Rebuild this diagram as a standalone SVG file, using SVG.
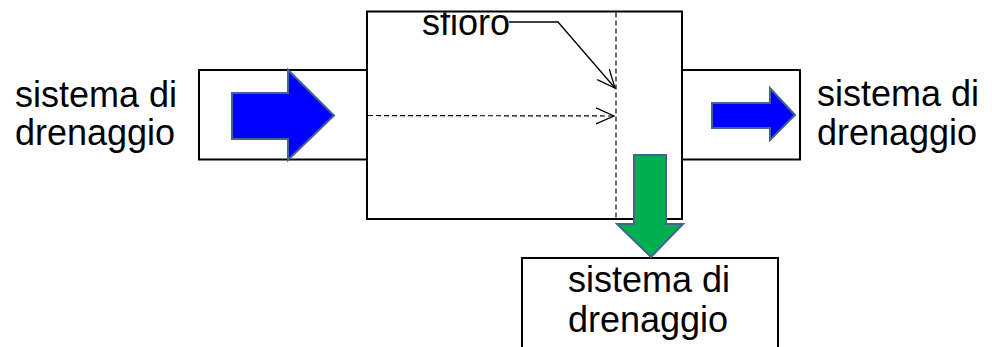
<svg xmlns="http://www.w3.org/2000/svg" width="992" height="347" viewBox="0 0 992 347">
<style>
.box{fill:#ffffff;stroke:#000000;stroke-width:2}
.lbl{font-family:"Liberation Sans",Arial,sans-serif;font-size:36px;fill:#000000}
.blue{fill:#0000ff;stroke:#41658f;stroke-width:2}
.green{fill:#00b050;stroke:#41658f;stroke-width:2}
.dash{fill:none;stroke:#000000;stroke-width:1.2;stroke-dasharray:5 3}
.solid{fill:none;stroke:#000000;stroke-width:1.3}
</style>
<defs>
<marker id="open" viewBox="0 0 20 20" refX="19" refY="10" markerWidth="20" markerHeight="20" markerUnits="userSpaceOnUse" orient="auto">
<path d="M1,2 L19,10 L1,18" fill="none" stroke="#000000" stroke-width="1.3"/>
</marker>
<clipPath id="inside"><rect x="367" y="12.5" width="315" height="206"/></clipPath>
</defs>
<rect width="992" height="347" fill="#ffffff"/>
<g id="left-node">
<rect class="box" x="199" y="70" width="168" height="89.5"/>
<text class="lbl" x="15" y="107">sistema di</text>
<text class="lbl" x="15" y="145">drenaggio</text>
</g>
<g id="right-node">
<rect class="box" x="682" y="70" width="118" height="89.5"/>
<text class="lbl" x="817" y="106">sistema di</text>
<text class="lbl" x="817" y="145">drenaggio</text>
</g>
<g id="bottom-node">
<rect class="box" x="522" y="258" width="256" height="120"/>
<text class="lbl" x="649" y="292" text-anchor="middle">sistema di</text>
<text class="lbl" x="648" y="332" text-anchor="middle">drenaggio</text>
</g>
<g id="main-node">
<rect class="box" x="367" y="11.5" width="315" height="207.5"/>
<text class="lbl" x="422" y="35" clip-path="url(#inside)">sfioro</text>
<line class="dash" x1="616" y1="12.5" x2="616" y2="218"/>
</g>
<g id="connectors">
<polygon class="blue" points="232,93 288,93 288,70 334,115.5 288,160 288,139 232,139"/>
<polygon class="blue" points="712,103 770,103 770,88 795,115 770,140 770,128 712,128"/>
<polygon class="green" points="634,155 666,155 666,224 683,224 651,257 617,224 634,224"/>
<line class="dash" x1="368" y1="115.5" x2="614" y2="116" marker-end="url(#open)"/>
<polyline class="solid" points="509,22 558,22 615,88" marker-end="url(#open)"/>
</g>
</svg>
